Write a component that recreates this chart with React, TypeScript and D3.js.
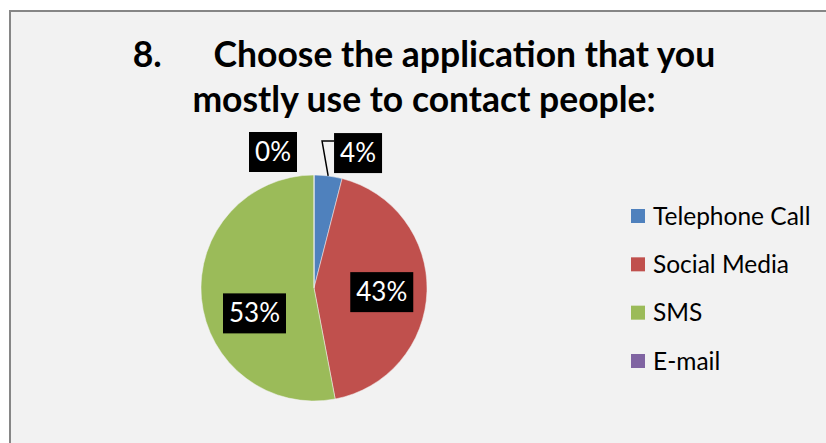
import React from "react";
import * as d3 from "d3";

const categories = ["Telephone Call", "Social Media", "SMS", "E-mail"];
const values = [4, 43, 53, 0];
const labels = ["4%", "43%", "53%", "0%"];
const colors = ["#4f81bd", "#c0504d", "#9bbb59", "#8064a2"];
const titleLines = ["8.      Choose the application that you", "mostly use to contact people:"];

// label placement tweaks (px): [dx, dy]
const labelNudge: [number, number][] = [[0, 0], [0, 2], [8, 19], [0, 0]];

const W = 826, H = 443;
const cx = 314, cy = 288, R = 113;
const FONT = "Lato, Carlito, Calibri, 'Open Sans', sans-serif";

export default function App() {
  const pie = d3.pie<number>().sort(null).startAngle(0).endAngle(2 * Math.PI)(values);
  const arc = d3.arc<d3.PieArcDatum<number>>().innerRadius(0).outerRadius(R);
  const labelArc = d3.arc<d3.PieArcDatum<number>>().innerRadius(R * 0.6).outerRadius(R * 0.6);
  const legendY = d3.scalePoint<string>().domain(categories).range([216, 361]);

  const boxH = 40;
  const boxW = (t: string) => (t.length === 2 ? 48 : 63);

  return (
    <svg width={W} height={H} style={{ position: "absolute", left: 0, top: 0 }} fontFamily={FONT}>
      <rect x={0} y={0} width={W} height={H} fill="#ffffff" />
      <rect x={10} y={11} width={W + 10} height={H + 10} fill="#f2f2f2" stroke="#868686" strokeWidth={2} />
      {titleLines.map((t, i) => (
        <text key={i} x={424} y={67 + i * 45} textAnchor="middle" fontSize={35.5} fontWeight="bold" fill="#000" style={{ whiteSpace: "pre" }}>
          {t}
        </text>
      ))}
      <g transform={`translate(${cx},${cy})`}>
        {pie.map((d, i) => (
          <path key={i} d={arc(d) || ""} fill={colors[i]} stroke="#f2f2f2" strokeWidth={0.5} />
        ))}
        {pie.map((d, i) => {
          const t = labels[i];
          const w = boxW(t);
          const mid = (d.startAngle + d.endAngle) / 2;
          const frac = values[i] / d3.sum(values);
          if (frac > 0.1) {
            const [x, y] = labelArc.centroid(d);
            const lx = x + labelNudge[i][0], ly = y + labelNudge[i][1];
            return (
              <g key={"l" + i}>
                <rect x={lx - w / 2} y={ly - boxH / 2} width={w} height={boxH} fill="#000" />
                <text x={lx} y={ly + 9} textAnchor="middle" fontSize={26} fill="#fff">{t}</text>
              </g>
            );
          }
          // outside labels
          const ro = R + 23;
          const ax = ro * Math.sin(mid), ay = -ro * Math.cos(mid);
          const right = Math.sin(mid) > 0.01;
          const bx = right ? ax + 3 : ax - 17 - w;
          const by = ay - boxH / 2;
          const ex = R * Math.sin(mid), ey = -R * Math.cos(mid);
          const leader = right ? (
            <polyline
              points={`${ex},${ey} ${bx - 12},${by + 8} ${bx},${by + 8}`}
              fill="none" stroke="#000" strokeWidth={1.5}
            />
          ) : null;
          return (
            <g key={"l" + i}>
              {leader}
              <rect x={bx} y={by} width={w} height={boxH} fill="#000" />
              <text x={bx + w / 2} y={by + boxH / 2 + 9} textAnchor="middle" fontSize={26} fill="#fff">{t}</text>
            </g>
          );
        })}
      </g>
      {categories.map((c, i) => {
        const y = legendY(c) as number;
        return (
          <g key={c}>
            <rect x={631} y={y - 7} width={14} height={14} fill={colors[i]} />
            <text x={653} y={y + 8.5} fontSize={24.5} fill="#000">{c}</text>
          </g>
        );
      })}
    </svg>
  );
}
